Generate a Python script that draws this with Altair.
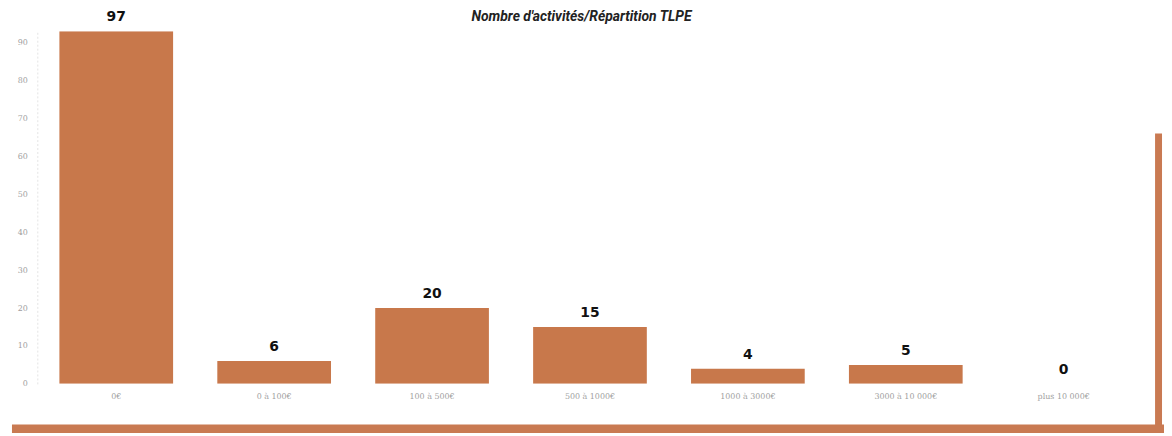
import altair as alt
import pandas as pd

categories = ["0€", "0 à 100€", "100 à 500€", "500 à 1000€", "1000 à 3000€", "3000 à 10 000€", "plus 10 000€"]
values = [97, 6, 20, 15, 4, 5, 0]
y_ticks = [0, 10, 20, 30, 40, 50, 60, 70, 80, 90]
y_max = 93
title_text = "Nombre d'activités/Répartition TLPE"

df = pd.DataFrame({"cat": categories, "val": values})

BAR = "#C8784B"
DECO = "#C97A52"

x_axis = alt.Axis(labelAngle=0, labelFontSize=8, labelColor="#a0a0a0",
                  labelFont="DejaVu Serif", domain=False, ticks=False,
                  labelPadding=9, title=None)
x_scale = alt.Scale(paddingInner=0.28, paddingOuter=0.14)
y_axis = alt.Axis(values=y_ticks, grid=False, ticks=False, domain=True,
                  domainColor="#e4e4e4", domainDash=[2, 2], domainWidth=1,
                  labelFontSize=8, labelColor="#a0a0a0", labelFont="DejaVu Serif",
                  labelPadding=10, labelOverlap=False, title=None)
y_scale = alt.Scale(domain=[0, y_max], nice=False, clamp=True)

bars = alt.Chart(df).mark_bar(color=BAR, clip=True).encode(
    x=alt.X("cat:N", sort=categories, scale=x_scale, axis=x_axis),
    y=alt.Y("val:Q", scale=y_scale, axis=y_axis),
)

labels = alt.Chart(df).transform_calculate(
    pos=f"min(datum.val, {y_max})"
).mark_text(baseline="bottom", dy=-7, fontSize=14, fontWeight="bold",
            font="DejaVu Sans", color="#111111").encode(
    x=alt.X("cat:N", sort=categories, scale=x_scale, axis=x_axis),
    y=alt.Y("pos:Q", scale=y_scale, axis=y_axis),
    text=alt.Text("val:Q"),
)

deco_src = alt.Data(values=[{"t": title_text}])
title_mark = alt.Chart(deco_src).mark_text(
    fontSize=14, fontStyle="italic", fontWeight="bold", font="Roboto",
    color="#222222", baseline="middle", align="center").encode(
    x=alt.value(548), y=alt.value(-14), text="t:N")
bottom_band = alt.Chart(deco_src).mark_rect(color=DECO).encode(
    x=alt.value(-25.5), x2=alt.value(1134.5), y=alt.value(396), y2=alt.value(406))
right_bar = alt.Chart(deco_src).mark_rect(color=DECO).encode(
    x=alt.value(1125.5), x2=alt.value(1132.5), y=alt.value(103), y2=alt.value(406))

chart = alt.layer(bars, labels, title_mark, bottom_band, right_bar).properties(
    width=1113, height=355,
    autosize=alt.AutoSizeParams(type="none"),
    padding={"left": 29.5, "top": 22, "right": 21.5, "bottom": 48},
).configure_view(stroke=None)

chart.save("out.html", embed_options={"renderer": "svg", "actions": False})
